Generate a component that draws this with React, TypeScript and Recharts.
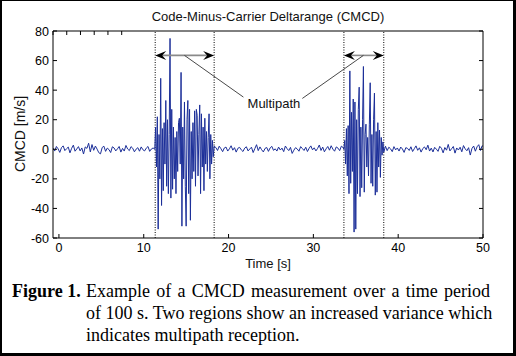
import React from "react";
import {
  LineChart,
  Line,
  XAxis,
  YAxis,
  ReferenceLine,
  ReferenceDot,
} from "recharts";

// CMCD signal. Each segment: start time, step, values
const quiet1 = [
  0.8, -1.2, 1.9, 0.3, -2.1, 1.1, 2.3, -0.9, 0.4, 1.5,
  -2.4, 0.7, 2.8, -1.3, 0.2, 1.8, -1.1, 0.9, -3.2, 1.6,
  0.6, 4.1, -1.8, 3.2, -0.7, 2.2, 0.1, -2.3, -3.1, 1.2,
  2.1, -1.4, 0.8, -0.2, -2.2, 1.7, 0.9, -1.1, 0.3, 1.9,
  -1.9, 0.6, -1.2, 2.6, 0.2, -0.9, 1.8, 0.7, -1.7, 0.1,
  1.1, -1.3, 1.6, -0.3, -1.1, 0.8, 1.9, -1.4, 0.2, 0.9,
];
const burst1 = [
  0, 15, -12, 22, -54, 10, -20, 48, -38, 14,
  -28, 18, -10, 33, -25, 20, -30, 10, 75, -33,
  27, -27, 15, -20, 8, -30, 12, -15, 18, 21,
  -10, 52, -52, 15, -20, 32, -25, -52, 20, 33,
  -30, 27, -48, 12, -20, 18, -15, 26, -25, 27,
  23, -18, 10, 30, -30, 24, -12, 15, -28, 21,
  -10, 12, -15, 8, 24, -20, 10, -10, 6, -5, 2,
];
const quiet2 = [
  1.2, -0.8, 2.1, 0.4, -1.6, 0.9, 1.5, -1.2, 0.3, 2.4,
  -0.6, 1.1, -1.9, 0.7, 1.3, -0.4, -1.5, 0.8, 1.7, -1.1,
  0.2, 1.4, -2.2, 0.5, 3.1, -0.9, 1.6, -0.3, -1.8, 0.6,
  1.2, -1.4, 0.9, 2.0, -0.7, 0.3, -1.2, 1.5, -0.5, 0.8,
  -1.6, 2.2, 0.4, -0.9, 1.3, -2.8, -0.6, 1.1, 0.2, -1.3,
  1.8, 0.5, -0.8, 1.4, -1.5, 0.7, 2.3, -0.4, 1.0, -1.1,
  0.6, 2.9, -0.8, 1.5, -1.7, 0.3, 1.9, -0.6, 2.4, 0.1,
  -1.3, 1.6, 0.8, -0.9, 2.1, 1.2,
];
const burst2 = [
  0, 6, -10, 14, -18, 16, -30, 53, -23, 25,
  -15, 34, -56, 32, -54, 20, -30, 27, 42, -32,
  15, -26, 20, 56, -29, 10, 17, -12, 8, -18,
  17, 45, -23, 10, -25, 20, 38, -31, 12, -29,
  18, -12, 13, -19, 8, -4, 5, -2,
];
const quiet3 = [
  2.1, -0.9, 1.4, 0.3, -1.6, 1.8, -0.4, 0.9, -1.2, 1.5,
  0.2, -2.1, 1.1, 0.6, -0.8, 1.7, -1.5, 0.4, 2.3, -0.7,
  1.0, -1.9, 0.5, 1.6, -0.3, 2.8, -1.2, 0.8, -1.8, 1.3,
  0.1, -1.4, 2.0, 0.7, -2.4, 1.2, -0.6, 3.3, -1.1, 0.4,
  1.9, -2.6, 0.9, -0.5, 1.4, -1.7, 2.5, 0.3, -1.0, 1.1,
  -3.9, 0.6, 2.2, -1.3, 1.7, 3.1, -0.8, 2.4, 1.5,
];

const segments = [
  { start: -0.7, step: 0.2, values: quiet1 },
  { start: 11.3, step: 0.1, values: burst1 },
  { start: 18.5, step: 0.2, values: quiet2 },
  { start: 33.6, step: 0.1, values: burst2 },
  { start: 38.5, step: 0.2, values: quiet3 },
];

const xTicks = [0, 10, 20, 30, 40, 50];
const yTicks = [-60, -40, -20, 0, 20, 40, 60, 80];

// multipath regions [start, end] in s
const regions = [
  [11.35, 18.3],
  [33.6, 38.3],
];
const arrowY = 63.5;
const label = { x: 25.35, y: 31, text: "Multipath" };
const connectors = [
  [{ x: 14.8, y: arrowY }, { x: 21.75, y: 35.3 }],
  [{ x: 35.9, y: arrowY }, { x: 28.7, y: 34.4 }],
];

const captionLines = [
  "Example of a CMCD measurement over a time period",
  "of 100 s. Two regions show an increased variance which",
  "indicates multipath reception.",
];

const points = segments.flatMap((s) =>
  s.values.map((v, i) => ({ t: +(s.start + i * s.step).toFixed(2), v }))
);

const sans = '"Liberation Sans", Arial, Helvetica, sans-serif';
const serif = '"Liberation Serif", "Times New Roman", Times, serif';
const TL = 4;

const BottomTick = ({ x, y, payload }: any) => (
  <g>
    <line x1={x} x2={x} y1={y} y2={y - TL} stroke="#000" />
    <text x={x} y={y + 14} textAnchor="middle" fontSize={12.5} fontFamily={sans} fill="#000">
      {payload.value}
    </text>
  </g>
);
const TopTick = ({ x, y }: any) => (
  <line x1={x} x2={x} y1={y} y2={y + TL} stroke="#000" />
);
const LeftTick = ({ x, y, payload }: any) => (
  <g>
    <line x1={x} x2={x + TL} y1={y} y2={y} stroke="#000" />
    <text x={x - 4} y={y} dy="0.36em" textAnchor="end" fontSize={12.5} fontFamily={sans} fill="#000">
      {payload.value}
    </text>
  </g>
);
const RightTick = ({ x, y }: any) => (
  <line x1={x} x2={x - TL} y1={y} y2={y} stroke="#000" />
);

const Arrow = (p: any) => {
  const { x1, y1, x2 } = p;
  const l = Math.min(x1, x2);
  const r = Math.max(x1, x2);
  const y = y1;
  return (
    <g>
      <line x1={l + 6} x2={r - 6} y1={y} y2={y} stroke="#8a8a8a" strokeWidth={1.6} />
      <path d={`M${l},${y} L${l + 11},${y - 4.5} L${l + 7},${y} L${l + 11},${y + 4.5} Z`} fill="#000" />
      <path d={`M${r},${y} L${r - 11},${y - 4.5} L${r - 7},${y} L${r - 11},${y + 4.5} Z`} fill="#000" />
    </g>
  );
};

export default function App() {
  return (
    <div style={{ position: "absolute", left: 0, top: 0, width: 516, height: 356, background: "#fff" }}>
      <LineChart
        width={516}
        height={280}
        data={points}
        margin={{ top: 30, right: 32, bottom: 12, left: 52 }}
      >
        <XAxis
          dataKey="t"
          type="number"
          domain={[-0.7, 50]}
          allowDataOverflow
          ticks={xTicks}
          interval={0}
          height={30}
          tickSize={0}
          tickMargin={0}
          tickLine={false}
          axisLine={{ stroke: "#000" }}
          tick={<BottomTick />}
        />
        <XAxis
          xAxisId="top"
          orientation="top"
          type="number"
          domain={[-0.7, 50]}
          allowDataOverflow
          ticks={xTicks}
          interval={0}
          height={1}
          tickSize={0}
          tickMargin={0}
          tickLine={false}
          axisLine={{ stroke: "#000" }}
          tick={<TopTick />}
        />
        <YAxis
          type="number"
          domain={[-60, 80]}
          allowDataOverflow
          ticks={yTicks}
          interval={0}
          width={1}
          tickSize={0}
          tickMargin={0}
          tickLine={false}
          axisLine={{ stroke: "#000" }}
          tick={<LeftTick />}
        />
        <YAxis
          yAxisId="right"
          orientation="right"
          type="number"
          domain={[-60, 80]}
          allowDataOverflow
          ticks={yTicks}
          interval={0}
          width={1}
          tickSize={0}
          tickMargin={0}
          tickLine={false}
          axisLine={{ stroke: "#000" }}
          tick={<RightTick />}
        />
        {regions.flatMap(([a, b]) => [
          <ReferenceLine key={`a${a}`} x={a} stroke="#000" strokeWidth={1} strokeDasharray="1 1.5" />,
          <ReferenceLine key={`b${b}`} x={b} stroke="#000" strokeWidth={1} strokeDasharray="1 1.5" />,
        ])}
        <Line
          dataKey="v"
          type="linear"
          stroke="#1c2f99"
          strokeWidth={1}
          dot={false}
          isAnimationActive={false}
        />
        {regions.map(([a, b]) => (
          <ReferenceLine
            key={`arr${a}`}
            segment={[{ x: a, y: arrowY }, { x: b, y: arrowY }]}
            shape={Arrow}
          />
        ))}
        {connectors.map((seg, i) => (
          <ReferenceLine key={`c${i}`} segment={seg} stroke="#333" strokeWidth={0.9} />
        ))}
        <ReferenceDot
          x={label.x}
          y={label.y}
          r={1}
          shape={(p: any) => (
            <text x={p.cx} y={p.cy} dy="0.36em" textAnchor="middle" fontSize={13} fontFamily={sans} fill="#111">
              {label.text}
            </text>
          )}
        />
        <text x={268} y={21} textAnchor="middle" fontSize={13} fontFamily={sans} fill="#111">
          Code-Minus-Carrier Deltarange (CMCD)
        </text>
        <text x={268} y={267.5} textAnchor="middle" fontSize={13} fontFamily={sans} fill="#111">
          Time [s]
        </text>
        <text
          x={0}
          y={0}
          transform="translate(24.5,134) rotate(-90)"
          textAnchor="middle"
          fontSize={14}
          fontFamily={sans}
          fill="#111"
        >
          CMCD [m/s]
        </text>
      </LineChart>
      <div
        style={{
          position: "absolute",
          left: 12,
          top: 280,
          fontFamily: serif,
          fontSize: 18,
          lineHeight: "22px",
          color: "#000",
          whiteSpace: "nowrap",
        }}
      >
        <span style={{ position: "absolute", left: 0, top: 0, fontWeight: "bold" }}>Figure 1.</span>
        <div style={{ position: "absolute", left: 74, top: 0, width: 404 }}>
          {captionLines.map((line, i) => (
            <div
              key={i}
              style={{
                whiteSpace: "nowrap",
                textAlign: "left",
                textAlignLast: i === 0 ? "justify" : "auto",
                height: 22,
              }}
            >
              {line}
            </div>
          ))}
        </div>
      </div>
      <div
        style={{
          position: "absolute",
          left: 0,
          top: 0,
          width: 516,
          height: 356,
          boxSizing: "border-box",
          borderStyle: "solid",
          borderColor: "#000",
          borderWidth: "1px 3px 3px 2px",
          pointerEvents: "none",
        }}
      />
    </div>
  );
}
